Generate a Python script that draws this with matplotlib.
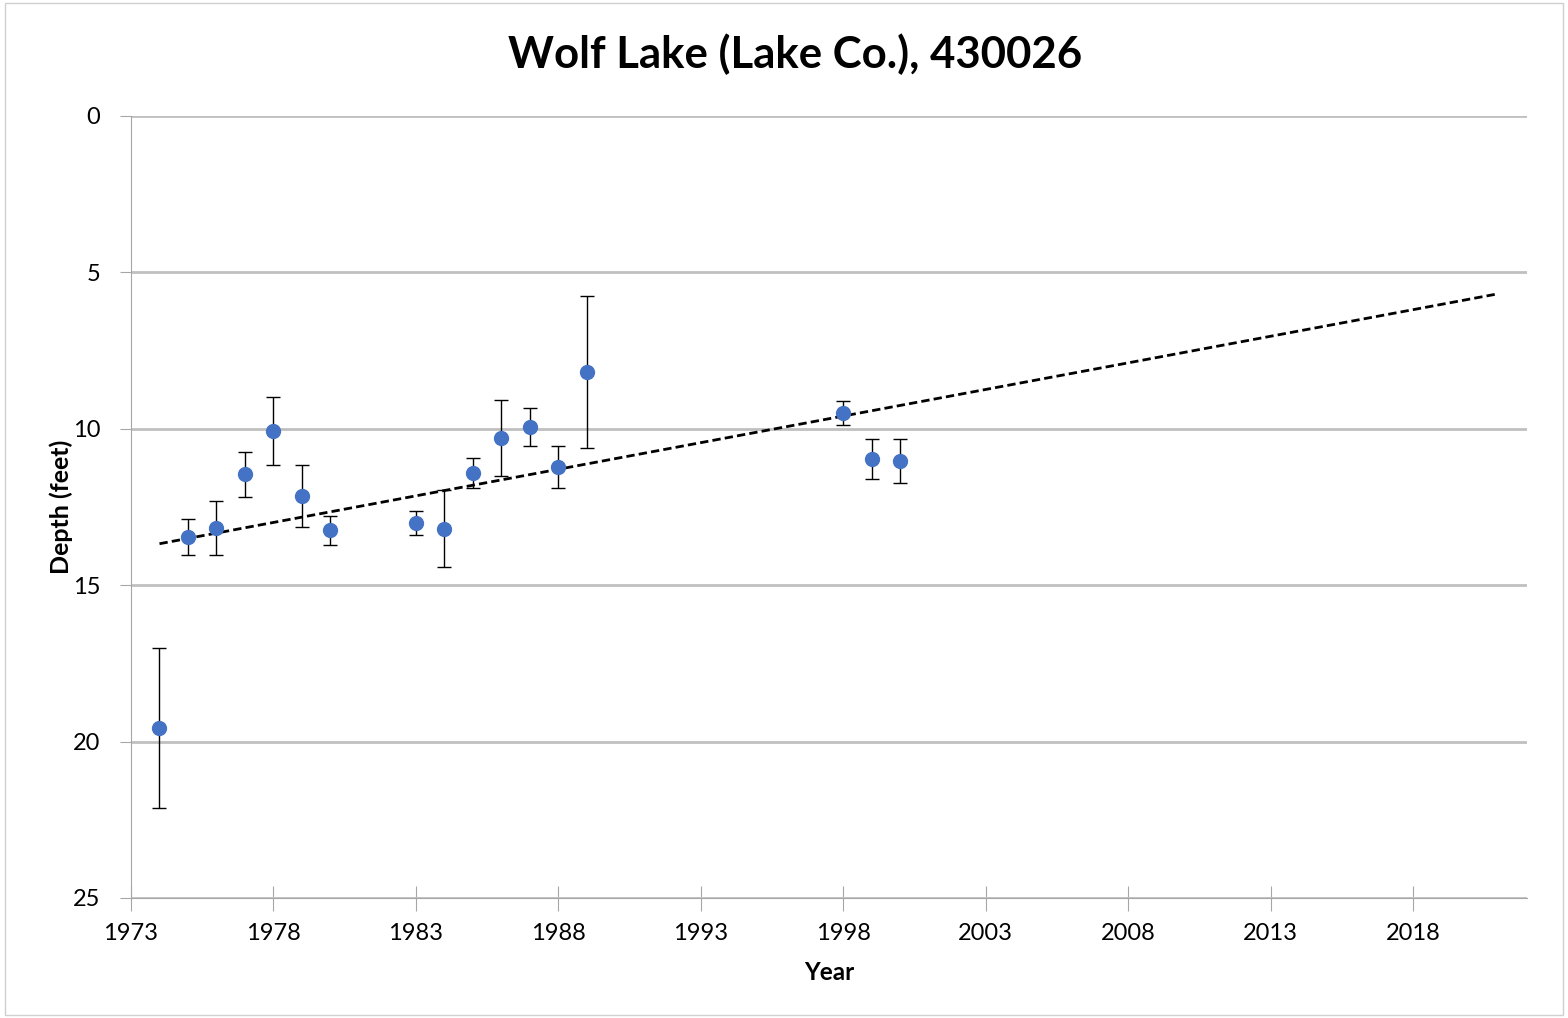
import matplotlib.pyplot as plt
import numpy as np

plt.rcParams['font.family'] = ['Lato', 'DejaVu Sans']

years = np.array([1974, 1975, 1976, 1977, 1978, 1979, 1980, 1983, 1984, 1985,
                  1986, 1987, 1988, 1989, 1998, 1999, 2000])
depth = np.array([19.57, 13.46, 13.17, 11.45, 10.07, 12.15, 13.24, 13.01, 13.2, 11.41,
                  10.29, 9.94, 11.22, 8.18, 9.49, 10.97, 11.03])
err = np.array([2.55, 0.58, 0.86, 0.72, 1.1, 1.0, 0.46, 0.38, 1.23, 0.48,
                1.21, 0.6, 0.68, 2.43, 0.38, 0.63, 0.7])

trend_x = np.array([1974, 2021])

slope, intercept = np.polyfit(years, depth, 1)

fig = plt.figure(figsize=(15.68, 10.18), dpi=100)
ax = fig.add_axes([131 / 1568, 1 - 898 / 1018, (1527 - 131) / 1568, (898 - 116) / 1018])

ax.errorbar(years, depth, yerr=err, fmt='o', color='#4472C4', markersize=10,
            ecolor='black', elinewidth=1, capsize=5, capthick=1, zorder=3)
ax.plot(trend_x, intercept + slope * trend_x, color='black', linestyle='--',
        linewidth=2, dashes=(3, 1.5), zorder=2)

ax.set_xlim(1973, 2022)
ax.set_ylim(25, 0)
ax.set_xticks(np.arange(1973, 2019, 5))
ax.set_yticks(np.arange(0, 26, 5))
ax.yaxis.grid(True, color='#C0C0C0', linewidth=2)
ax.set_axisbelow(True)
for s in ['top', 'right']:
    ax.spines[s].set_visible(False)
for s in ['left', 'bottom']:
    ax.spines[s].set_color('#A6A6A6')
ax.tick_params(axis='x', direction='inout', length=18, color='#A6A6A6', labelsize=17, pad=9)
ax.tick_params(axis='y', direction='out', length=8, color='#A6A6A6', labelsize=17, pad=14)

ax.set_xlabel('Year', fontsize=17.5, fontweight='bold', labelpad=12)
ax.set_ylabel('Depth (feet)', fontsize=18, fontweight='bold', labelpad=0)
fig.suptitle('Wolf Lake (Lake Co.), 430026', fontsize=31.5, fontweight='bold',
             x=0.507, y=0.967)

fig.patches.append(plt.Rectangle((0.003, 0.003), 0.994, 0.994, transform=fig.transFigure,
                                 fill=False, edgecolor='#D0D0D0', linewidth=1))

fig.savefig('out.png', dpi=100)
